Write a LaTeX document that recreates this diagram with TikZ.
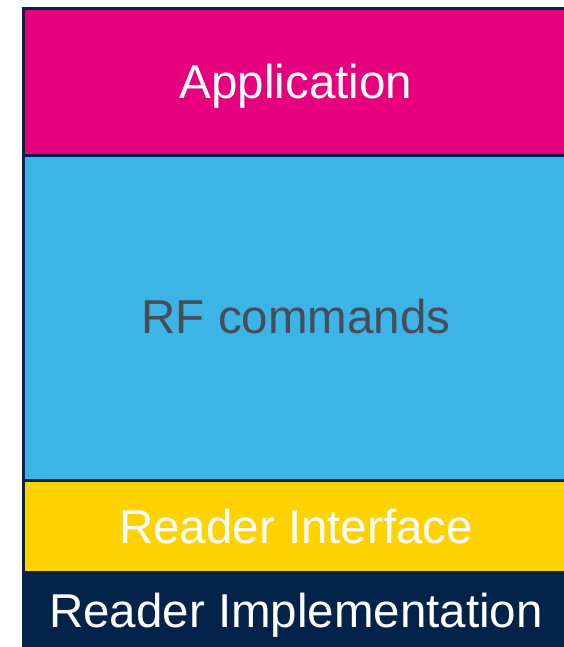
\documentclass[tikz,border=0pt]{standalone}
\usepackage{fontspec}
\setmainfont{Liberation Sans}
\definecolor{stnavy}{HTML}{03234B}
\definecolor{stpink}{HTML}{E6007E}
\definecolor{stblue}{HTML}{3CB4E6}
\definecolor{styellow}{HTML}{FFD200}
\definecolor{stgrey}{HTML}{464C58}
\tikzset{
  layer/.style={inner sep=0pt, anchor=base, font=\fontsize{47.5}{57}\selectfont},
}
\begin{document}
\begin{tikzpicture}[x=1pt,y=-1pt]
  \useasboundingbox (0,0) rectangle (564,647);
  % dark frame, which also forms the bottom layer
  \fill[stnavy] (22,7) rectangle (564,647);
  % stacked layers
  \fill[stpink] (25,10) rectangle (564,154);
  \fill[stblue] (25,157) rectangle (564,479);
  \fill[styellow] (25,482) rectangle (564,570.5);
  % labels
  \node[layer, text=white] (app) at (296,98.5) {Application};
  \node[layer, text=stgrey] (rf) at (296,333) {RF commands};
  \node[layer, text=white] (ri) at (296,543) {Reader Interface};
  \node[layer, text=white] (impl) at (296,627) {Reader Implementation};
\end{tikzpicture}
\end{document}
